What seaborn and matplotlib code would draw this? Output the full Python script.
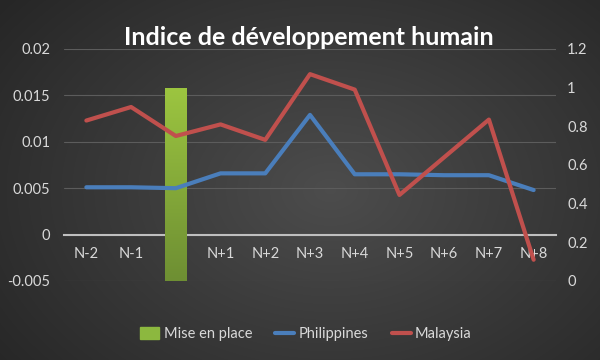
import numpy as np
import matplotlib.pyplot as plt
import seaborn as sns
from matplotlib.patches import Patch
from matplotlib.lines import Line2D
from matplotlib.colors import LinearSegmentedColormap

# Data
categories = ["N-2", "N-1", "", "N+1", "N+2", "N+3", "N+4", "N+5", "N+6", "N+7", "N+8"]
philippines = [0.0051, 0.0051, 0.0050, 0.0066, 0.0066, 0.0129, 0.0065, 0.0065, 0.0064, 0.0064, 0.0048]
malaysia = [0.83, 0.90, 0.75, 0.81, 0.73, 1.07, 0.99, 0.445, 0.64, 0.835, 0.11]
mise_en_place_idx = 2
mise_en_place_top = 0.0158
mise_en_place_base = -0.005

left_ticks = [-0.005, 0, 0.005, 0.01, 0.015, 0.02]
right_ticks = [0, 0.2, 0.4, 0.6, 0.8, 1, 1.2]

sns.set_theme(style="dark")
plt.rcParams["font.family"] = ["Lato", "DejaVu Sans"]

txt = "#d9d9d9"
blue = "#4a7ebb"
red = "#c0504d"
green = "#8cb83f"

fig = plt.figure(figsize=(6, 3.6), dpi=100)

# Dark radial gradient background
bg = fig.add_axes([0, 0, 1, 1], zorder=-10)
yy, xx = np.mgrid[0:360, 0:600]
r = np.sqrt(((xx - 330) / 420) ** 2 + ((yy - 190) / 300) ** 2)
shade = np.clip(0.30 - 0.15 * r, 0.15, 0.30)
bg.imshow(np.dstack([shade] * 3), aspect="auto", extent=[0, 1, 0, 1])
bg.axis("off")

ax = fig.add_axes([64 / 600, 1 - 281 / 360, 492 / 600, 232 / 360])
ax.set_facecolor("none")
ax2 = ax.twinx()
ax2.set_facecolor("none")

x = np.arange(len(categories))

# Bar marking the implementation year, with a vertical green gradient
bars = ax.bar(x[mise_en_place_idx], mise_en_place_top - mise_en_place_base,
              bottom=mise_en_place_base, width=0.47, color="none",
              linewidth=0, zorder=2)
bar = bars[0]
bx0, by0 = bar.get_x(), bar.get_y()
bx1, by1 = bx0 + bar.get_width(), by0 + bar.get_height()
cmap = LinearSegmentedColormap.from_list("g", ["#6e8f33", "#9cc540"])
grad = ax.imshow(np.linspace(0, 1, 100).reshape(-1, 1), cmap=cmap, origin="lower",
                 extent=[bx0, bx1, by0, by1], aspect="auto", zorder=2)
grad.set_clip_path(bar)

sns.lineplot(x=x, y=philippines, ax=ax, color=blue, linewidth=3, zorder=3)
sns.lineplot(x=x, y=malaysia, ax=ax2, color=red, linewidth=3, zorder=3)

ax.set_xlim(-0.5, len(categories) - 0.5)
ax.set_ylim(-0.005, 0.02)
ax2.set_ylim(0, 1.2)
ax.set_yticks(left_ticks)
ax.set_yticklabels(["-0.005", "0", "0.005", "0.01", "0.015", "0.02"])
ax2.set_yticks(right_ticks)
ax2.set_yticklabels(["0", "0.2", "0.4", "0.6", "0.8", "1", "1.2"])
ax.set_xticks(x)
ax.set_xticklabels(categories)

ax.grid(axis="y", color="#5c5c5c", linewidth=0.8)
ax.grid(axis="x", visible=False)
ax2.grid(False)
ax.set_axisbelow(True)

for a in (ax, ax2):
    for s in a.spines.values():
        s.set_visible(False)
ax.spines["bottom"].set_visible(True)
ax.spines["bottom"].set_position(("data", 0))
ax.spines["bottom"].set_color("#bfbfbf")
ax.spines["bottom"].set_linewidth(1.5)
ax.spines["bottom"].set_zorder(1)

ax.tick_params(axis="x", length=0, pad=9, labelsize=10.5, labelcolor=txt)
ax.tick_params(axis="y", length=0, pad=10, labelsize=10.5, labelcolor=txt)
ax2.tick_params(axis="y", length=0, pad=8, labelsize=10.5, labelcolor=txt)

fig.text(0.515, 0.895, "Indice de développement humain", ha="center", va="center",
         color="white", fontsize=18, fontweight="bold")

handles = [Patch(color=green), Line2D([], [], color=blue, linewidth=3),
           Line2D([], [], color=red, linewidth=3)]
fig.legend(handles, ["Mise en place", "Philippines", "Malaysia"], loc="center",
           bbox_to_anchor=(0.51, 0.072), ncol=3, frameon=False, fontsize=10.5,
           labelcolor=txt, handlelength=1.3, handleheight=0.9, columnspacing=1.6,
           handletextpad=0.3)

fig.savefig("out.png", dpi=100)
